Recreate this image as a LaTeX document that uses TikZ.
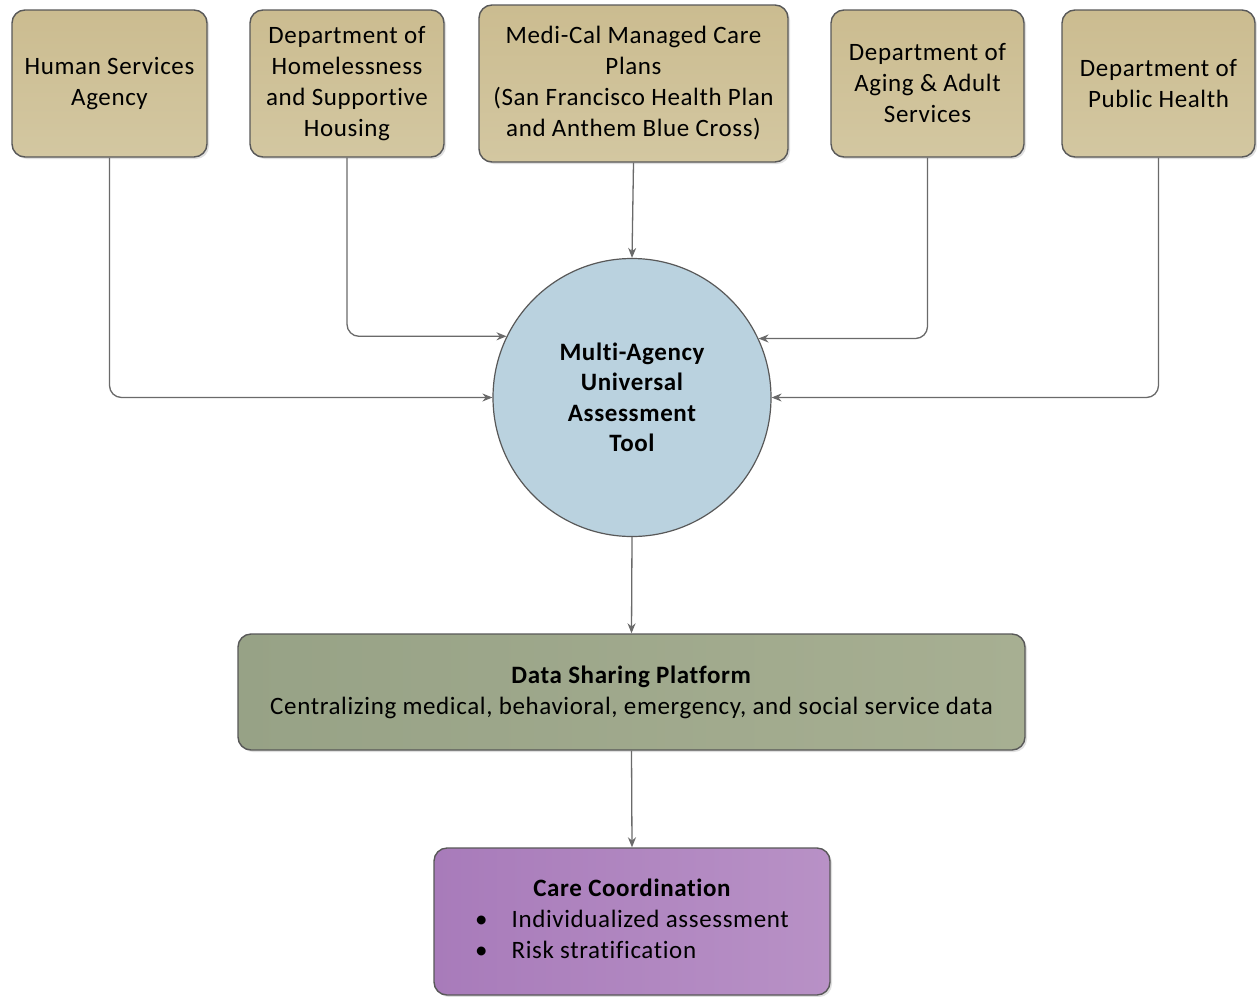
\documentclass[tikz,border=0pt]{standalone}
\usepackage{fontspec}
\setmainfont{Carlito}[LetterSpace=2.5,Ligatures={NoCommon}]
\usetikzlibrary{arrows.meta,shadows}
\definecolor{tanTop}{HTML}{CBBC90}
\definecolor{tanBot}{HTML}{D3C7A1}
\definecolor{boxline}{HTML}{585858}
\definecolor{circfill}{HTML}{BAD2DF}
\definecolor{greenL}{HTML}{97A286}
\definecolor{greenR}{HTML}{A7AF92}
\definecolor{purpL}{HTML}{A87BBA}
\definecolor{purpR}{HTML}{B891C6}
\definecolor{conn}{HTML}{6A6A6A}
\begin{document}
\begin{tikzpicture}[x=1pt,y=-1pt,
  shade/.style={drop shadow={shadow xshift=2pt,shadow yshift=-2pt,opacity=0.25}},
  src/.style={draw=boxline,line width=1.4pt,rounded corners=13pt,top color=tanTop,bottom color=tanBot,
    align=center,inner sep=0pt,font=\fontsize{25}{31}\selectfont,shade},
  hub/.style={circle,draw=boxline,line width=1.2pt,fill=circfill,minimum size=278pt,inner sep=0pt,
    align=center,font=\fontsize{25}{30.5}\selectfont\bfseries},
  plat/.style={draw=boxline,line width=1.4pt,rounded corners=13pt,left color=greenL,right color=greenR,
    align=center,inner sep=0pt,minimum width=787pt,minimum height=116pt,font=\fontsize{25}{31}\selectfont,shade},
  care/.style={draw=boxline,line width=1.4pt,rounded corners=13pt,left color=purpL,right color=purpR,
    inner sep=0pt,minimum width=396pt,minimum height=147pt,font=\fontsize{25}{31}\selectfont,shade},
  link/.style={draw=conn,line width=1.3pt,rounded corners=12pt,-{Stealth[length=10pt,width=8pt]}}]
\useasboundingbox[fill=white] (0,0) rectangle (1257,996);

\node[src,minimum width=195pt,minimum height=147pt] (hsa) at (109.5,83.5) {Human Services\\Agency};
\node[src,minimum width=194pt,minimum height=147pt] (dhsh) at (347,83.5) {Department of\\Homelessness\\and Supportive\\Housing};
\node[src,minimum width=309pt,minimum height=157pt] (medi) at (633.5,83.5) {Medi-Cal Managed Care\\Plans\\(San Francisco Health Plan\\and Anthem Blue Cross)};
\node[src,minimum width=193pt,minimum height=147pt] (daas) at (927.5,83.5) {Department of\\Aging \& Adult\\Services};
\node[src,minimum width=193pt,minimum height=147pt] (dph) at (1158.5,83.5) {Department of\\Public Health};

\node[hub] (mau) at (632,397.5) {Multi-Agency\\Universal\\Assessment\\Tool};

\node[plat] (data) at (631.5,692) {\textbf{Data Sharing Platform}\\Centralizing medical, behavioral, emergency, and social service data};

\node[care] (cc) at (632,921.5) {\begin{tabular}{@{}l@{\hspace{24pt}}l@{}}
\multicolumn{2}{c}{\bfseries Care Coordination}\\
\textbullet & Individualized assessment\\
\textbullet & Risk stratification
\end{tabular}};

\draw[link] (hsa.south) |- (mau.west);
\draw[link] (dhsh.south) |- (mau.154.4);
\draw[link] (medi.south) -- (mau.north);
\draw[link] (daas.south) |- (mau.25.6);
\draw[link] (dph.south) |- (mau.east);
\draw[link] (mau.south) -- (data.north);
\draw[link] (data.south) -- (cc.north);
\end{tikzpicture}
\end{document}
